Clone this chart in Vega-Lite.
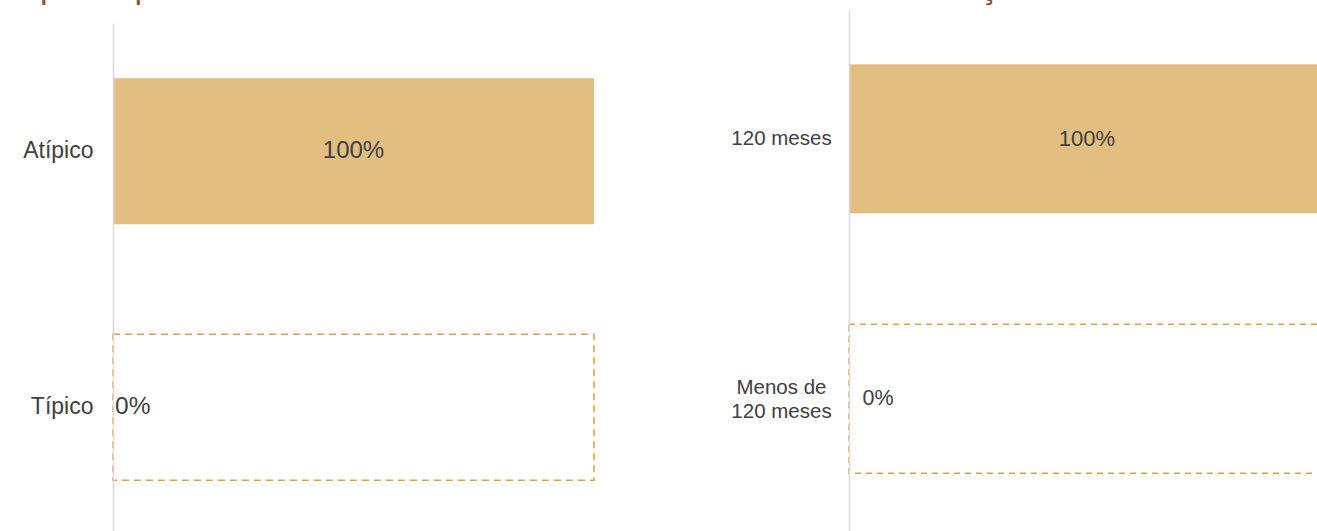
{
  "$schema": "https://vega.github.io/schema/vega-lite/v6.json",
  "background": "white",
  "padding": {"left": 0, "top": -29, "right": 0, "bottom": 0},
  "spacing": 0,
  "columns": 2,
  "align": "none",
  "config": {
    "view": {"stroke": null},
    "font": "Liberation Sans"
  },
  "datasets": {
    "perfil": [
      {"categoria": "Atípico", "valor": 1},
      {"categoria": "Típico", "valor": 0}
    ],
    "prazo": [
      {"categoria": "120 meses", "valor": 1},
      {"categoria": "Menos de 120 meses", "valor": 0}
    ]
  },
  "concat": [
    {
      "data": {"name": "perfil"},
      "width": 481,
      "height": 523,
      "title": {
        "text": "Tipo de perfil",
        "anchor": "start",
        "frame": "bounds",
        "dx": 13,
        "offset": -23,
        "baseline": "alphabetic",
        "font": "Liberation Sans",
        "fontSize": 34,
        "fontWeight": "normal",
        "color": "#8a552b"
      },
      "encoding": {
        "y": {
          "field": "categoria",
          "type": "nominal",
          "sort": ["Atípico", "Típico"],
          "scale": {"paddingInner": 0.43, "paddingOuter": 0.215, "range": [14.25, 526.3]},
          "axis": {
            "title": null,
            "domainColor": "#d9d9d9",
            "domainWidth": 1.5,
            "ticks": false,
            "labelFontSize": 23,
            "labelColor": "#404040",
            "labelPadding": 20,
            "minExtent": 113,
            "maxExtent": 113,
            "zindex": 1
          }
        }
      },
      "layer": [
        {
          "transform": [{"filter": "datum.valor < 1"}],
          "mark": {"type": "bar", "fill": "white", "fillOpacity": 0, "stroke": "#dca23a", "strokeWidth": 1.5, "strokeDash": [7, 5]},
          "encoding": {
            "x": {"datum": 0, "type": "quantitative", "scale": {"domain": [0, 1]}, "axis": null},
            "x2": {"datum": 1}
          }
        },
        {
          "mark": {"type": "bar", "color": "#e2be80"},
          "encoding": {
            "x": {"field": "valor", "type": "quantitative", "scale": {"domain": [0, 1]}, "axis": null}
          }
        },
        {
          "transform": [{"filter": "datum.valor > 0"}, {"calculate": "datum.valor / 2", "as": "meio"}],
          "mark": {"type": "text", "align": "center", "baseline": "middle", "fontSize": 24, "color": "#404040"},
          "encoding": {
            "x": {"field": "meio", "type": "quantitative"},
            "text": {"field": "valor", "type": "quantitative", "format": ".0%"}
          }
        },
        {
          "transform": [{"filter": "datum.valor == 0"}],
          "mark": {"type": "text", "align": "left", "baseline": "middle", "dx": 2, "fontSize": 24.5, "color": "#404040"},
          "encoding": {
            "x": {"field": "valor", "type": "quantitative"},
            "text": {"field": "valor", "type": "quantitative", "format": ".0%"}
          }
        }
      ]
    },
    {
      "data": {"name": "prazo"},
      "width": 476,
      "height": 523,
      "title": {
        "text": "Duração do contrato",
        "anchor": "start",
        "frame": "bounds",
        "dx": 311,
        "offset": -23,
        "baseline": "alphabetic",
        "font": "Liberation Sans",
        "fontSize": 34,
        "fontWeight": "normal",
        "color": "#8a552b"
      },
      "encoding": {
        "y": {
          "field": "categoria",
          "type": "nominal",
          "sort": ["120 meses", "Menos de 120 meses"],
          "scale": {"paddingInner": 0.427, "paddingOuter": 0.219, "align": 0.485},
          "axis": {
            "title": null,
            "domainColor": "#d9d9d9",
            "domainWidth": 1.5,
            "ticks": false,
            "labelFontSize": 20.5,
            "labelColor": "#404040",
            "labelAlign": "center",
            "labelPadding": 68,
            "labelLineHeight": 24,
            "labelOffset": {"condition": {"test": "datum.label == 'Menos de 120 meses'", "value": -11}, "value": 0},
            "labelExpr": "datum.label == 'Menos de 120 meses' ? ['Menos de', '120 meses'] : datum.label",
            "minExtent": 254,
            "maxExtent": 254,
            "zindex": 1
          }
        }
      },
      "layer": [
        {
          "transform": [{"filter": "datum.valor < 1"}],
          "mark": {"type": "bar", "fill": "white", "fillOpacity": 0, "stroke": "#dca23a", "strokeWidth": 1.5, "strokeDash": [6, 5]},
          "encoding": {
            "x": {"datum": 0, "type": "quantitative", "scale": {"domain": [0, 1]}, "axis": null},
            "x2": {"datum": 1}
          }
        },
        {
          "mark": {"type": "bar", "color": "#e2be80"},
          "encoding": {
            "x": {"field": "valor", "type": "quantitative", "scale": {"domain": [0, 1]}, "axis": null}
          }
        },
        {
          "transform": [{"filter": "datum.valor > 0"}, {"calculate": "datum.valor / 2", "as": "meio"}],
          "mark": {"type": "text", "align": "center", "baseline": "middle", "fontSize": 22, "color": "#404040"},
          "encoding": {
            "x": {"field": "meio", "type": "quantitative"},
            "text": {"field": "valor", "type": "quantitative", "format": ".0%"}
          }
        },
        {
          "transform": [{"filter": "datum.valor == 0"}],
          "mark": {"type": "text", "align": "left", "baseline": "middle", "dx": 13.5, "fontSize": 21.5, "color": "#404040"},
          "encoding": {
            "x": {"field": "valor", "type": "quantitative"},
            "text": {"field": "valor", "type": "quantitative", "format": ".0%"}
          }
        }
      ]
    }
  ]
}
